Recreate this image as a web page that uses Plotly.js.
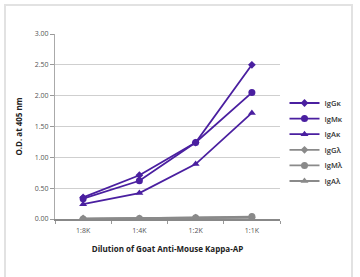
<!DOCTYPE html>
<html><head><meta charset="utf-8">
<script src="https://cdn.plot.ly/plotly-3.0.1.min.js"></script>
<style>
html,body{margin:0;padding:0;background:#fff;}
#frame{position:absolute;left:4px;top:4px;width:349px;height:290px;border:2px solid #e2e2e2;box-sizing:border-box;}
#chart{position:absolute;left:0;top:0;width:360px;height:277px;}
</style></head>
<body>
<div id="frame"></div>
<div id="chart"></div>
<script>
const categories = ["1:8K", "1:4K", "1:2K", "1:1K"];
const seriesNames = ["IgGκ", "IgMκ", "IgAκ", "IgGλ", "IgMλ", "IgAλ"];
const IgGk = [0.35, 0.71, 1.24, 2.50];
const IgMk = [0.33, 0.62, 1.24, 2.05];
const IgAk = [0.24, 0.42, 0.89, 1.72];
const IgGl = [0.01, 0.01, 0.02, 0.03];
const IgMl = [0.00, 0.01, 0.02, 0.04];
const IgAl = [0.00, 0.01, 0.01, 0.02];
const yTicks = [0, 0.5, 1.0, 1.5, 2.0, 2.5, 3.0];

const purple = "#4a1fa0";
const gray = "#8a8a8a";
const values = [IgGk, IgMk, IgAk, IgGl, IgMl, IgAl];
const colors = [purple, purple, purple, gray, gray, gray];
const symbols = ["diamond", "circle", "triangle-up", "diamond", "circle", "triangle-up"];
const sizes = [6, 7, 7, 6, 7, 7];

const traces = values.map((v, i) => ({
  type: "scatter", mode: "lines+markers",
  name: seriesNames[i], x: categories, y: v,
  legend: i === 0 ? "legend" : "legend" + (i + 1),
  line: {color: colors[i], width: 1.8},
  marker: {color: colors[i], symbol: symbols[i], size: sizes[i]}
}));

const layout = {
  width: 360, height: 277,
  margin: {l: 55, r: 63, t: 34, b: 58},
  paper_bgcolor: "rgba(0,0,0,0)", plot_bgcolor: "rgba(0,0,0,0)",
  font: {family: "Open Sans, sans-serif", size: 7, color: "#555"},
  showlegend: true,
  xaxis: {type: "category", range: [-0.5, 3.5], tickson: "boundaries",
    ticks: "outside", ticklen: 3, tickcolor: "#999", showline: true, linecolor: "#888", linewidth: 1.5,
    showgrid: false, zeroline: false, ticklabelstandoff: 4,
    tickfont: {size: 7, color: "#555"},
    title: {text: "<b>Dilution of Goat Anti-Mouse Kappa-AP</b>", font: {size: 8, color: "#222"}, standoff: 12}},
  yaxis: {range: [0, 3.0], tickvals: yTicks, tickformat: ".2f",
    ticks: "outside", ticklen: 4, tickcolor: "#999", showline: true, linecolor: "#aaa", linewidth: 1,
    showgrid: true, gridcolor: "#cfcfcf", gridwidth: 1, zeroline: false,
    tickfont: {size: 7, color: "#555"},
    title: {text: "<b>O.D. at 405 nm</b>", font: {size: 8, color: "#222"}, standoff: 10}}
};

// one small legend per series so the row spacing can match the reference
for (let i = 0; i < seriesNames.length; i++) {
  const key = i === 0 ? "legend" : "legend" + (i + 1);
  const py = 103 + i * 15.6;
  layout[key] = {
    x: 1.02, xanchor: "left", y: (219 - py) / 185, yanchor: "middle",
    font: {size: 7.5, color: "#333", family: "Open Sans, sans-serif", weight: 600},
    itemwidth: 30, bgcolor: "rgba(0,0,0,0)", borderwidth: 0
  };
}

Plotly.newPlot("chart", traces, layout, {displayModeBar: false, staticPlot: true});
</script>
</body></html>
